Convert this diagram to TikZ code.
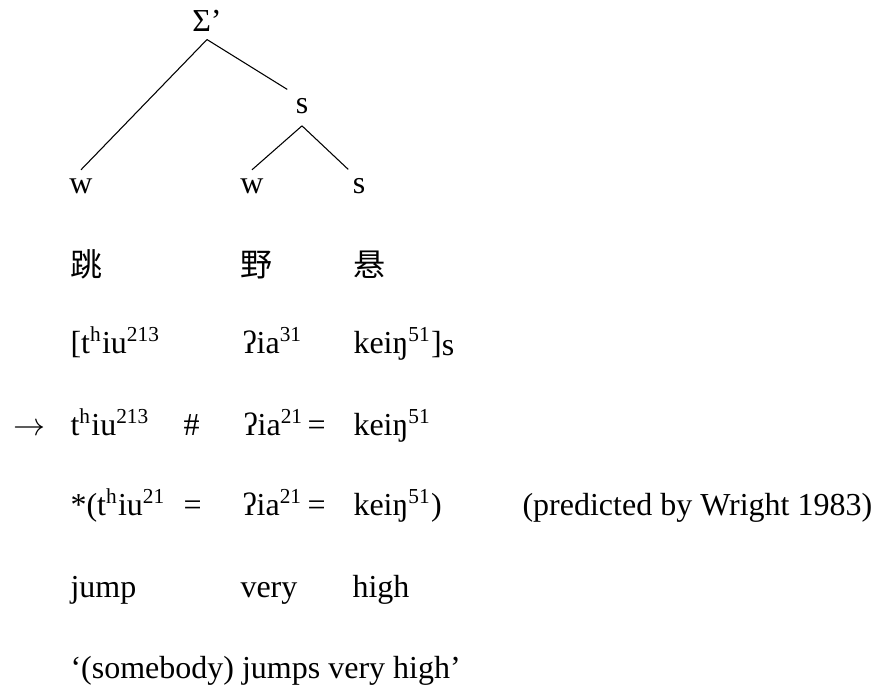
\documentclass[tikz,border=0pt,12pt]{standalone}
\usepackage{fontspec}
\setmainfont{Liberation Serif}
\newfontfamily\cjk{Noto Sans CJK SC}
\usetikzlibrary{positioning}
\newcommand{\up}[1]{\textsuperscript{#1}}
\newcommand{\thiu}{t\up{h}iu}

\begin{document}
\begin{tikzpicture}[
    x=0.375pt, y=-0.375pt,
    treenode/.style={inner sep=3pt, anchor=base},
    word/.style={inner sep=0pt, anchor=base west},
    branch/.style={line width=0.4pt},
]
\useasboundingbox (0,0) rectangle (877,688);

% tree
\node[treenode] (root) at (207,31) {Σ’};
\node[treenode] (sMid) at (302,113) {s};
\node[treenode] (wLeft) at (81,193) {w};
\node[treenode] (wMid) at (252,193) {w};
\node[treenode] (sRight) at (359,193) {s};

\draw[branch] (root.south) -- (wLeft.north);
\draw[branch] (root.south) -- (sMid.north west);
\draw[branch] ([yshift=-1.5pt]sMid.south) -- (wMid.north);
\draw[branch] ([yshift=-1.5pt]sMid.south) -- ([xshift=1.5pt]sRight.north west);

% characters
\node[word] (zi1) at (70,276) {\cjk 跳};
\node[word] (zi2) at (240,276) {\cjk 野};
\node[word] (zi3) at (353,276) {\cjk 悬};

% underlying tones
\node[word] (ur1) at (70,353) {[\thiu\up{213}};
\node[word] (ur2) at (242,353) {ʔia\up{31}};
\node[word] (ur3) at (353,353) {keiŋ\up{51}]\raisebox{-1pt}{s}};

% surface tones
\node[word] (arrow) at (13,435) {$\rightarrow$};
\node[word] (sf1) at (70,435) {\thiu\up{213}};
\node[word] (sf2) at (183,435) {\#};
\node[word] (sf3) at (243,435) {ʔia\up{21}};
\node[word] (sf4) at (307,435) {=};
\node[word] (sf5) at (353,435) {keiŋ\up{51}};

% predicted form
\node[word] (pr1) at (70,515) {*(\thiu\up{21}};
\node[word] (pr2) at (183,515) {=};
\node[word] (pr3) at (242,515) {ʔia\up{21}};
\node[word] (pr4) at (307,515) {=};
\node[word] (pr5) at (353,515) {keiŋ\up{51})};
\node[word] (wright) at (522,515) {(predicted by Wright 1983)};

% gloss
\node[word] (gl1) at (70,597) {jump};
\node[word] (gl2) at (240,597) {very};
\node[word] (gl3) at (352,597) {high};
\node[word] (trans) at (70,678) {‘(somebody) jumps very high’};

\end{tikzpicture}
\end{document}
